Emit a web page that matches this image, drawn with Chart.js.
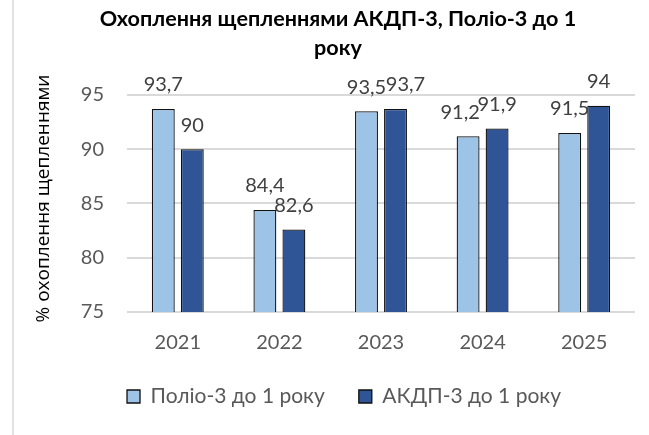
<!DOCTYPE html>
<html>
<head>
<meta charset="utf-8">
<script src="https://cdn.jsdelivr.net/npm/chart.js@4/dist/chart.umd.min.js"></script>
<style>
  html, body { margin: 0; padding: 0; background: #fff; }
  #wrap { width: 649px; height: 435px; position: relative; }
</style>
</head>
<body>
<div id="wrap"><canvas id="chart"></canvas></div>
<script>
// дані
const years = ['2021', '2022', '2023', '2024', '2025'];
const polio = [93.7, 84.4, 93.5, 91.2, 91.5];
const akdp = [90, 82.6, 93.7, 91.9, 94];
const yTicks = [75, 80, 85, 90, 95];

const titleLines = ['Охоплення щепленнями АКДП-3, Поліо-3 до 1', 'року'];
const yTitle = '% охоплення щепленнями';

// підписи над стовпцями (деякі зсунуті вручну, як в оригіналі)
const labelShift = { '0-3': -8, '1-2': 10 };

const valueLabels = {
  id: 'valueLabels',
  afterDatasetsDraw(chart) {
    const ctx = chart.ctx;
    ctx.save();
    ctx.font = '20px Lato';
    ctx.fillStyle = '#404040';
    ctx.textAlign = 'center';
    ctx.textBaseline = 'middle';
    chart.data.datasets.forEach((ds, i) => {
      chart.getDatasetMeta(i).data.forEach((bar, j) => {
        const dx = labelShift[i + '-' + j] || 0;
        ctx.fillText(String(ds.data[j]).replace('.', ','), bar.x + dx, bar.y - 24);
      });
    });
    ctx.restore();
  }
};

// сіра рамка зліва + легенда трохи правіше
const frame = {
  id: 'frame',
  afterLayout(chart) {
    chart.legend.left += 6;
    chart.legend.right += 6;
  },
  beforeDraw(chart) {
    const ctx = chart.ctx;
    ctx.save();
    ctx.strokeStyle = '#d9d9d9';
    ctx.lineWidth = 1.5;
    ctx.beginPath();
    ctx.moveTo(13, 0);
    ctx.lineTo(13, chart.height);
    ctx.stroke();
    ctx.restore();
  }
};

new Chart(document.getElementById('chart'), {
  type: 'bar',
  data: {
    labels: years,
    datasets: [{
      label: 'Поліо-3 до 1 року',
      data: polio,
      backgroundColor: '#9dc3e6',
      borderColor: '#111',
      borderWidth: 1.3
    }, {
      label: 'АКДП-3 до 1 року',
      data: akdp,
      backgroundColor: '#2f5597',
      borderColor: '#111',
      borderWidth: 1.3
    }]
  },
  options: {
    responsive: true,
    maintainAspectRatio: false,
    animation: false,
    layout: { padding: { left: 41, right: 14, top: 0, bottom: 18 } },
    datasets: { bar: { categoryPercentage: 0.571, barPercentage: 0.79 } },
    plugins: {
      title: {
        display: true,
        text: titleLines,
        color: '#000',
        font: { family: 'Lato', size: 21.6, weight: 'bold', lineHeight: 1.34 },
        padding: { top: 5, bottom: 32 }
      },
      legend: {
        position: 'bottom',
        labels: {
          color: '#595959',
          font: { family: 'Lato', size: 21 },
          boxWidth: 13,
          boxHeight: 13,
          padding: 34
        }
      },
      tooltip: { enabled: false }
    },
    scales: {
      x: {
        grid: { display: false },
        border: { display: false },
        ticks: { color: '#595959', font: { family: 'Lato', size: 20 }, padding: 11 },
        afterFit(scale) { scale.height = 40; }
      },
      y: {
        min: 75,
        max: 95,
        afterBuildTicks(scale) { scale.ticks = yTicks.map(v => ({ value: v })); },
        grid: { color: '#d9d9d9', lineWidth: 2, drawTicks: false },
        border: { display: false },
        ticks: { color: '#595959', font: { family: 'Lato', size: 20 }, padding: 23 },
        title: {
          display: true,
          text: '  ' + yTitle,
          color: '#000',
          font: { family: 'Open Sans', size: 19 },
          padding: { top: -9, bottom: 0 }
        },
        afterFit(scale) { scale.width = 86; }
      }
    }
  },
  plugins: [valueLabels, frame]
});
</script>
</body>
</html>
